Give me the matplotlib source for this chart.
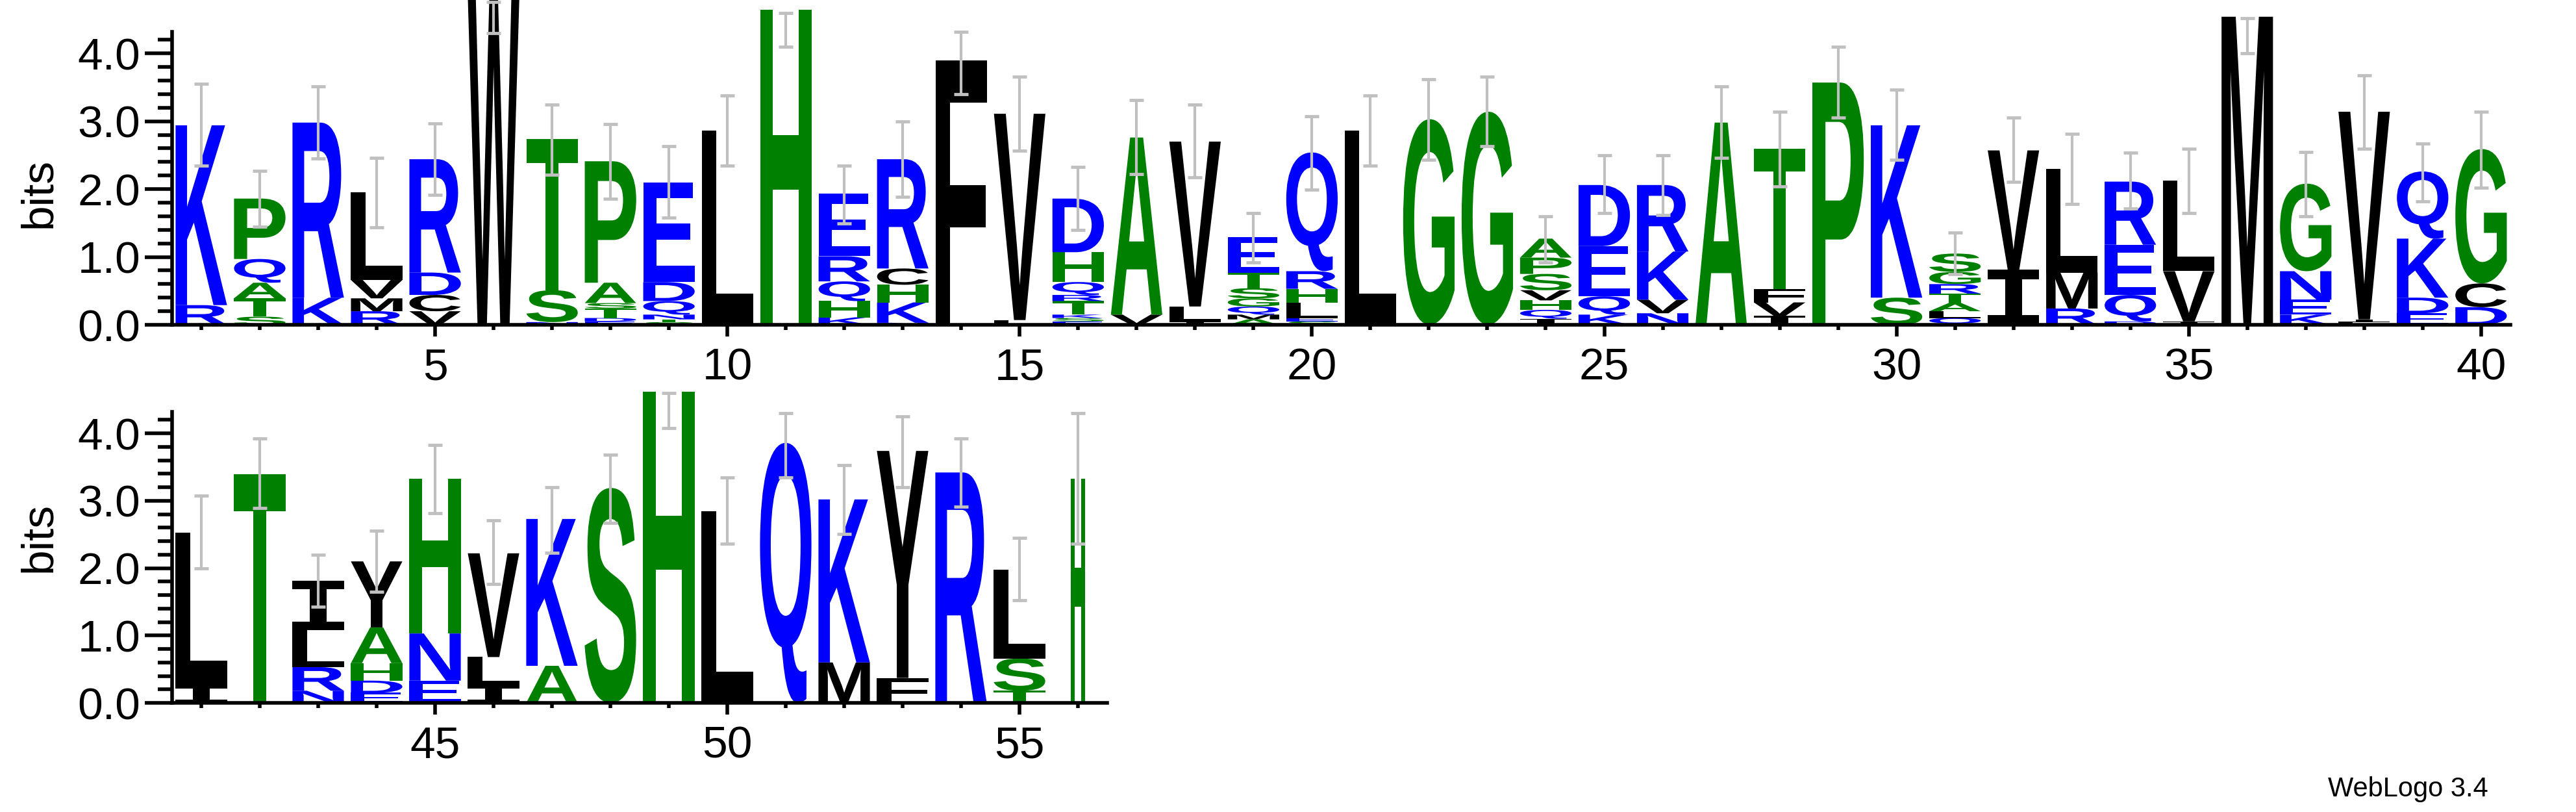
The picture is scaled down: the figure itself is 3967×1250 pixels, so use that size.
import matplotlib
matplotlib.use("Agg")
import matplotlib.pyplot as plt
from matplotlib.textpath import TextPath
from matplotlib.font_manager import FontProperties
from matplotlib.patches import PathPatch
from matplotlib.transforms import Affine2D
from matplotlib.ticker import MultipleLocator

plt.rcParams['font.family'] = ['Liberation Sans', 'DejaVu Sans']

# stacks, bottom letter first
letters = ["RK", "STAQP", "KR", "RMVL", "VCDR", "W", "NST", "EDTSAP", "STNQDE", "L",
           "H", "KHQRE", "NKHCR", "F", "LV", "ESKTRQHD", "VA", "ILV", "AMQGSTE", "SELHRQ",
           "L", "G", "G", "IQHVSPA", "KQED", "NVKR", "A", "IVFT", "P", "SK",
           "QLATRGS", "IV", "RML", "DQER", "IVL", "M", "KENG", "LIV", "EDKQ", "DCG",
           "IL", "T", "NRLI", "EDHAY", "ENH", "ILV", "AK", "S", "H", "L",
           "Q", "MK", "FY", "R", "TSL", "H"]
heights = [[0.29, 2.65], [0.12, 0.27, 0.23, 0.35, 0.89], [0.40, 2.58], [0.20, 0.19, 0.27, 1.29],
           [0.20, 0.24, 0.33, 1.67], [4.8], [0.04, 0.47, 2.23], [0.05, 0.05, 0.14, 0.08, 0.30, 1.79],
           [0.04, 0.04, 0.07, 0.20, 0.28, 1.47], [2.86],
           [4.64], [0.11, 0.24, 0.29, 0.37, 0.92], [0.03, 0.30, 0.26, 0.24, 1.61], [3.90],
           [0.07, 3.04], [0.05, 0.05, 0.05, 0.20, 0.09, 0.19, 0.44, 0.79], [0.15, 2.61],
           [0.05, 0.22, 2.43], [0.08, 0.07, 0.12, 0.12, 0.15, 0.23, 0.52],
           [0.05, 0.05, 0.23, 0.20, 0.26, 1.75],
           [2.86], [3.03], [3.14], [0.09, 0.13, 0.14, 0.15, 0.24, 0.24, 0.28], [0.15, 0.27, 0.74, 0.90],
           [0.17, 0.20, 0.71, 0.98], [2.98], [0.13, 0.20, 0.20, 2.06], [3.57], [0.40, 2.54],
           [0.10, 0.10, 0.12, 0.14, 0.14, 0.18, 0.27], [0.81, 1.76], [0.24, 0.53, 1.53],
           [0.05, 0.39, 0.74, 0.93], [0.05, 0.74, 1.34], [4.54], [0.15, 0.22, 0.42, 1.29],
           [0.04, 0.04, 3.06], [0.17, 0.23, 0.87, 0.99], [0.26, 0.35, 1.98],
           [0.26, 2.27], [3.39], [0.18, 0.35, 0.55, 0.73], [0.15, 0.18, 0.26, 0.53, 0.98],
           [0.33, 0.70, 2.30], [0.26, 0.42, 1.54], [0.55, 2.18], [3.19], [4.62], [2.84],
           [3.86], [0.60, 2.42], [0.37, 3.37], [3.42], [0.18, 0.48, 1.32], [3.33]]
err_lo = [2.35, 1.45, 2.45, 1.44, 1.91, 4.30, 2.21, 1.86, 1.58, 2.35,
          4.10, 1.49, 1.89, 3.40, 2.57, 1.40, 2.22, 2.17, 0.92, 1.99,
          2.35, 2.43, 2.63, 0.92, 1.65, 1.62, 2.46, 2.04, 3.05, 2.43,
          0.75, 2.11, 1.78, 1.71, 1.65, 4.00, 1.60, 2.59, 1.82, 2.02,
          2.00, 2.89, 1.43, 1.65, 2.82, 1.76, 2.23, 2.67, 4.08, 2.36,
          3.35, 2.51, 3.20, 2.91, 1.52, 2.36]
err_hi = [3.55, 2.27, 3.51, 2.46, 2.97, 4.76, 3.25, 2.96, 2.63, 3.38,
          4.60, 2.35, 3.00, 4.32, 3.66, 2.33, 3.31, 3.25, 1.65, 3.07,
          3.38, 3.62, 3.66, 1.60, 2.50, 2.50, 3.51, 3.14, 4.10, 3.47,
          1.36, 3.05, 2.81, 2.54, 2.59, 4.52, 2.55, 3.68, 2.67, 3.14,
          3.08, 3.92, 2.20, 2.56, 3.83, 2.71, 3.20, 3.68, 4.60, 3.35,
          4.30, 3.53, 4.25, 3.92, 2.45, 4.30]
col_width = [1.0] * 55 + [0.27]

colors = {}
for c in "KRDEQN":
    colors[c] = "#0000ff"
for c in "PATSGH":
    colors[c] = "#008000"
for c in "LVMCWIFY":
    colors[c] = "#000000"

fp = FontProperties(family="Liberation Sans", weight="bold")
fp_serif_i = FontProperties(family="DejaVu Sans Mono", weight="bold")  # I with bars, as in the logo
glyphs = {}


def draw_letter(ax, ch, xc, y0, w, h):
    if ch not in glyphs:
        glyphs[ch] = TextPath((0, 0), ch, size=1, prop=fp_serif_i if ch == "I" else fp)
    p = glyphs[ch]
    bb = p.get_extents()
    tr = Affine2D().translate(-bb.x0, -bb.y0).scale(w / bb.width, h / bb.height).translate(xc - w / 2, y0)
    ax.add_patch(PathPatch(tr.transform_path(p), fc=colors[ch], ec="none", clip_on=False))


fig = plt.figure(figsize=(39.67, 12.5), dpi=100)
ymax = 4.32
ax1 = fig.add_axes([0.0668, 0.6, 0.9077, 0.361])
ax2 = fig.add_axes([0.0668, 0.1344, 0.363, 0.3584])

for ax, first, last in [(ax1, 1, 40), (ax2, 41, 56)]:
    for pos in range(first, last + 1):
        i = pos - 1
        w = 0.88 * col_width[i]
        y = 0
        for ch, h in zip(letters[i], heights[i]):
            draw_letter(ax, ch, pos, y, w, h)
            y += h
        mid = (err_lo[i] + err_hi[i]) / 2
        ax.errorbar([pos], [mid], yerr=[[mid - err_lo[i]], [err_hi[i] - mid]], fmt="none",
                    ecolor="#c0c0c0", elinewidth=3, capsize=8, capthick=3.5, zorder=5,
                    clip_on=False)
    ax.set_xlim(first - 0.5, last + 0.5)
    ax.set_ylim(0, ymax)
    ax.spines["top"].set_visible(False)
    ax.spines["right"].set_visible(False)
    ax.spines["left"].set_linewidth(4)
    ax.spines["bottom"].set_linewidth(4)
    ax.yaxis.set_major_locator(MultipleLocator(1.0))
    ax.yaxis.set_minor_locator(MultipleLocator(0.2))
    ax.yaxis.set_major_formatter(plt.FuncFormatter(lambda v, p: "%.1f" % v))
    ax.set_xticks([p for p in range(first, last + 1) if p % 5 == 0])
    ax.set_xticks(range(first, last + 1), minor=True)
    ax.tick_params(axis="y", which="major", length=30, width=4, labelsize=50, pad=5)
    ax.tick_params(axis="y", which="minor", length=16, width=4)
    ax.tick_params(axis="x", which="major", length=13, width=4, labelsize=50, pad=12)
    ax.tick_params(axis="x", which="minor", length=6, width=4)
    ax.set_ylabel("bits", fontsize=50)

ax1.yaxis.set_label_coords(-0.048, 0.45)
ax2.yaxis.set_label_coords(-0.12, 0.57)

fig.text(0.966, 0.012, "WebLogo 3.4", ha="right", va="bottom", fontsize=30)

fig.savefig("out.png", dpi=100)
